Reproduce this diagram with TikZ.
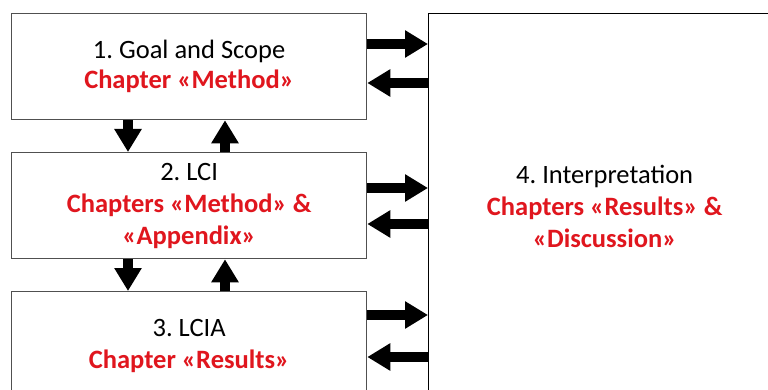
\documentclass[tikz,border=0pt]{standalone}
\usepackage{fontspec}
\setmainfont{Carlito}
\usetikzlibrary{arrows.meta}
\definecolor{chapred}{RGB}{224,22,30}
\definecolor{boxgray}{RGB}{80,80,80}
\tikzset{
  stage/.style={draw=boxgray, line width=1.3pt, fill=white, minimum width=355pt,
    inner sep=0pt, align=center, font=\fontsize{26.5}{32}\selectfont\frenchspacing},
  interp/.style={draw=black, line width=1.3pt, fill=white, inner sep=0pt,
    align=center, font=\fontsize{26.5}{32}\selectfont\frenchspacing},
  flow/.style={line width=10pt, -{Triangle[width=26pt,length=23pt]}}
}
\newcommand{\chapline}[1]{{\color{chapred}\bfseries #1}}
\begin{document}
\begin{tikzpicture}[x=1pt,y=-1pt]
  \useasboundingbox (0,0) rectangle (768,390);
  % stages of the assessment
  \node[stage, minimum height=106pt, anchor=north west,
        font=\fontsize{26.5}{30}\selectfont\frenchspacing] (b1) at (11,13)
    {1. Goal and Scope\\ \chapline{Chapter «Method»}};
  \node[stage, minimum height=106pt, anchor=north west] (b2) at (11,152)
    {2. LCI\\ \chapline{Chapters «Method» \&}\\ \chapline{«Appendix»}};
  \node[stage, minimum height=109pt, anchor=north west] (b3) at (11,291)
    {3. LCIA\\ \chapline{Chapter «Results»}};
  \node[interp, minimum width=352pt, minimum height=385pt, anchor=north west] (b4) at (428,13)
    {4. Interpretation\\ \chapline{Chapters «Results» \&}\\ \chapline{«Discussion»}};
  % reference heights of the horizontal flows
  \coordinate (h1) at (0,44);  \coordinate (h2) at (0,83);
  \coordinate (h3) at (0,188); \coordinate (h4) at (0,224);
  \coordinate (h5) at (0,315); \coordinate (h6) at (0,357);
  % reference columns of the vertical flows
  \coordinate (vd) at (128,0); \coordinate (vu) at (225,0);
  % stages <-> interpretation
  \draw[flow] (b1.east |- h1) -- (b4.west |- h1);
  \draw[flow] (b4.west |- h2) -- (b1.east |- h2);
  \draw[flow] (b2.east |- h3) -- (b4.west |- h3);
  \draw[flow] (b4.west |- h4) -- (b2.east |- h4);
  \draw[flow] (b3.east |- h5) -- (b4.west |- h5);
  \draw[flow] (b4.west |- h6) -- (b3.east |- h6);
  % stage <-> stage
  \draw[flow] (vd |- b1.south) -- (vd |- b2.north);
  \draw[flow] (vu |- b2.north) -- (vu |- b1.south);
  \draw[flow] (vd |- b2.south) -- (vd |- b3.north);
  \draw[flow] (vu |- b3.north) -- (vu |- b2.south);
\end{tikzpicture}
\end{document}
